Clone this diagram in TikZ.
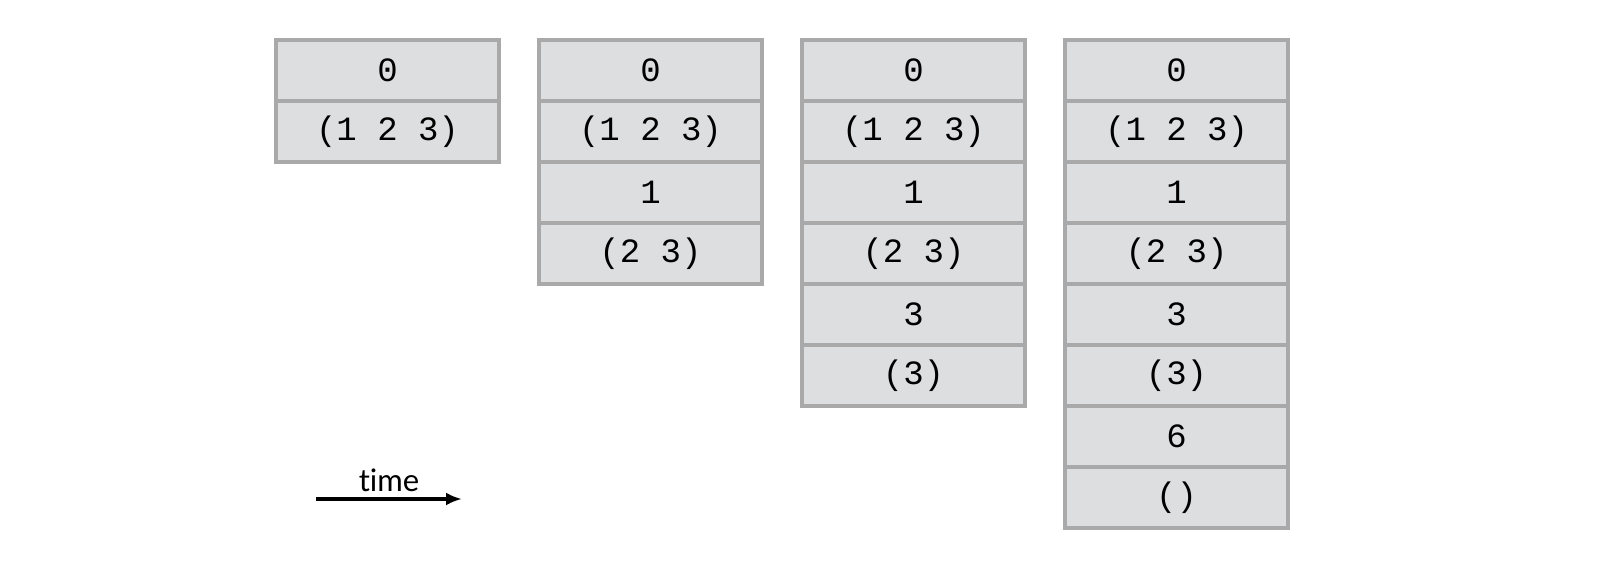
\documentclass[tikz,border=0pt]{standalone}
\usepackage{fontspec}
\setmainfont{Lato}
\setmonofont{Liberation Mono}
\usetikzlibrary{positioning,arrows.meta}
\definecolor{cellfill}{HTML}{DDDEE0}
\definecolor{celledge}{HTML}{A9A9A9}
\tikzset{cell/.style={shape=rectangle, draw=celledge, fill=cellfill, line width=3.5pt,
  minimum width=223pt, minimum height=61pt, inner sep=0pt, font=\ttfamily\fontsize{34}{34}\selectfont}}
\begin{document}
\begin{tikzpicture}[x=1pt,y=-1pt]
	\useasboundingbox (0,0) rectangle (1620,588);
	% Frames, one column per point in time
	\foreach \x/\n [count=\c] in {387.5/2, 650.5/4, 913.5/6, 1176.5/8} {
		\foreach \t [count=\r] in {0,(1 2 3),1,(2 3),3,(3),6,()} {
			\ifnum\r>\n\else
				\node[cell] (N\c-\r) at (\x, 9.5+61*\r) {\t};
			\fi
		}
	}
	% Time arrow
	\coordinate (T0) at (316,499);
	\coordinate (T1) at (462,499);
	\draw[line width=3.5pt, -{Latex[length=16pt,width=13pt]}] (T0) -- (T1);
	\node[font=\fontsize{31}{31}\selectfont, above=4pt of T0, xshift=73pt] (Ttime) {t\kern0pt ime};
\end{tikzpicture}
\end{document}
